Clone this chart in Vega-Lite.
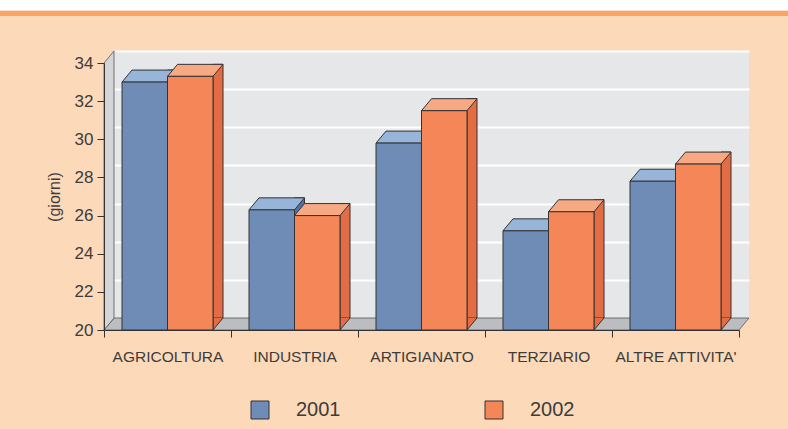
{
  "$schema": "https://vega.github.io/schema/vega-lite/v6.json",
  "autosize": "none",
  "width": 635,
  "height": 267,
  "padding": {"left": 114, "top": 51, "right": 39, "bottom": 111},
  "background": "#fcd9b8",
  "config": {
    "font": "Liberation Sans",
    "view": {"fill": "#e6e7e9", "stroke": null}
  },
  "data": {
    "values": [
      {"settore": "AGRICOLTURA", "anno": "2001", "giorni": 33.0},
      {"settore": "AGRICOLTURA", "anno": "2002", "giorni": 33.3},
      {"settore": "INDUSTRIA", "anno": "2001", "giorni": 26.3},
      {"settore": "INDUSTRIA", "anno": "2002", "giorni": 26.0},
      {"settore": "ARTIGIANATO", "anno": "2001", "giorni": 29.8},
      {"settore": "ARTIGIANATO", "anno": "2002", "giorni": 31.5},
      {"settore": "TERZIARIO", "anno": "2001", "giorni": 25.2},
      {"settore": "TERZIARIO", "anno": "2002", "giorni": 26.2},
      {"settore": "ALTRE ATTIVITA'", "anno": "2001", "giorni": 27.8},
      {"settore": "ALTRE ATTIVITA'", "anno": "2002", "giorni": 28.7}
    ]
  },
  "resolve": {"axis": {"y": "independent", "x": "independent"}},
  "layer": [
    {
      "data": {"values": [{}]},
      "mark": {"type": "point", "shape": "M-317.5,0 L317.5,0 L307.5,12 L-327.5,12 Z", "size": 4, "filled": true, "opacity": 1, "fill": "#bcbdc0", "stroke": "#555555", "strokeWidth": 0.8},
      "encoding": {
        "y": {"datum": 20, "type": "quantitative", "scale": {"domain": [20, 34], "nice": false, "zero": false}, "axis": null}
      }
    },
    {
      "data": {"values": [{}]},
      "mark": {"type": "point", "shape": "M-317.5,0 L-317.5,267 L-327.5,279 L-327.5,12 Z", "size": 4, "filled": true, "opacity": 1, "fill": "#d4d5d7", "stroke": "#555555", "strokeWidth": 0.8},
      "encoding": {
        "y": {"datum": 34, "type": "quantitative", "axis": null}
      }
    },
    {
      "data": {"values": [{}]},
      "mark": {"type": "point", "shape": "M-431.5,-5.25 L356.5,-5.25 L356.5,5.25 L-431.5,5.25 Z", "size": 4, "filled": true, "opacity": 1, "fill": "#ffffff", "strokeWidth": 0},
      "encoding": {
        "y": {"datum": 36.41, "type": "quantitative", "axis": null}
      }
    },
    {
      "data": {"values": [{}]},
      "mark": {"type": "point", "shape": "M-431.5,-2.5 L356.5,-2.5 L356.5,2.5 L-431.5,2.5 Z", "size": 4, "filled": true, "opacity": 1, "fill": "#f9a466", "strokeWidth": 0},
      "encoding": {
        "y": {"datum": 35.966, "type": "quantitative", "axis": null}
      }
    },
    {
      "transform": [{"filter": "datum.anno == '2001'"}],
      "mark": {"type": "bar", "width": 10, "xOffset": -5, "fill": "#4d72a3", "stroke": "#333333", "strokeWidth": 1},
      "encoding": {
        "x": {"field": "settore", "type": "nominal", "sort": null, "scale": {"paddingInner": 0, "paddingOuter": 0}, "axis": null},
        "y": {"field": "giorni", "type": "quantitative", "axis": {"orient": "right", "grid": true, "gridColor": "#ffffff", "gridWidth": 2, "labels": false, "ticks": false, "domain": false, "title": null, "values": [22, 24, 26, 28, 30, 32, 34]}},
        "y2": {"datum": 20}
      }
    },
    {
      "transform": [{"filter": "datum.anno == '2001'"}],
      "mark": {"type": "point", "shape": "M0,0 L-10,12 L-10,0", "size": 4, "filled": true, "opacity": 1, "fill": "#4d72a3", "stroke": "#333333", "strokeWidth": 1},
      "encoding": {
        "x": {"field": "settore", "type": "nominal", "sort": null, "axis": null},
        "y": {"datum": 20, "type": "quantitative", "axis": null}
      }
    },
    {
      "transform": [{"filter": "datum.anno == '2001'"}],
      "mark": {"type": "point", "shape": "M-45.5,0 L0,0 L-10,12 L-55.5,12 Z", "size": 4, "filled": true, "opacity": 1, "fill": "#97b4d9", "stroke": "#333333", "strokeWidth": 1},
      "encoding": {
        "x": {"field": "settore", "type": "nominal", "sort": null, "axis": null},
        "y": {"field": "giorni", "type": "quantitative", "axis": null}
      }
    },
    {
      "transform": [{"filter": "datum.anno == '2001'"}],
      "mark": {"type": "bar", "width": 45.5, "xOffset": -32.75, "yOffset": 12, "y2Offset": 12, "stroke": "#333333", "strokeWidth": 1},
      "encoding": {
        "x": {"field": "settore", "type": "nominal", "sort": null,
          "axis": {"orient": "bottom", "title": null, "tickBand": "extent", "domainColor": "#333333", "tickColor": "#333333", "tickSize": 7, "labelFontSize": 15.5, "labelColor": "#3c3c3c", "labelPadding": 12, "labelAngle": 0, "translate": -9.5, "offset": 22, "zindex": 1}},
        "y": {"field": "giorni", "type": "quantitative",
          "axis": {"orient": "left", "values": [20, 22, 24, 26, 28, 30, 32, 34], "grid": false, "title": "(giorni)", "titleFontSize": 16, "titleFontWeight": "normal", "titleColor": "#3c3c3c", "titlePadding": 12, "domainColor": "#333333", "tickColor": "#333333", "tickSize": 7, "labelPadding": 4, "labelFontSize": 17, "labelColor": "#3c3c3c", "translate": 12.5, "offset": 22, "zindex": 1}},
        "y2": {"datum": 20},
        "color": {"field": "anno", "type": "nominal",
          "scale": {"domain": ["2001", "2002"], "range": ["#6f8cb7", "#f58657"]},
          "legend": {"orient": "none", "legendX": 136, "legendY": 349, "direction": "horizontal", "title": null, "symbolType": "square", "symbolSize": 324, "symbolStrokeColor": "#333333", "symbolStrokeWidth": 1, "labelFontSize": 20, "labelColor": "#3c3c3c", "labelOffset": 26, "columnPadding": 142, "padding": 0}}
      }
    },
    {
      "transform": [{"filter": "datum.anno == '2002'"}],
      "mark": {"type": "bar", "width": 10, "xOffset": 40.5, "fill": "#e46c44", "stroke": "#333333", "strokeWidth": 1},
      "encoding": {
        "x": {"field": "settore", "type": "nominal", "sort": null, "axis": null},
        "y": {"field": "giorni", "type": "quantitative", "axis": null},
        "y2": {"datum": 20}
      }
    },
    {
      "transform": [{"filter": "datum.anno == '2002'"}],
      "mark": {"type": "point", "shape": "M45.5,0 L35.5,12 L35.5,0", "size": 4, "filled": true, "opacity": 1, "fill": "#e46c44", "stroke": "#333333", "strokeWidth": 1},
      "encoding": {
        "x": {"field": "settore", "type": "nominal", "sort": null, "axis": null},
        "y": {"datum": 20, "type": "quantitative", "axis": null}
      }
    },
    {
      "transform": [{"filter": "datum.anno == '2002'"}],
      "mark": {"type": "point", "shape": "M0,0 L45.5,0 L35.5,12 L-10,12 Z", "size": 4, "filled": true, "opacity": 1, "fill": "#f7a983", "stroke": "#333333", "strokeWidth": 1},
      "encoding": {
        "x": {"field": "settore", "type": "nominal", "sort": null, "axis": null},
        "y": {"field": "giorni", "type": "quantitative", "axis": null}
      }
    },
    {
      "transform": [{"filter": "datum.anno == '2002'"}],
      "mark": {"type": "bar", "width": 45.5, "xOffset": 12.75, "yOffset": 12, "y2Offset": 12, "stroke": "#333333", "strokeWidth": 1},
      "encoding": {
        "x": {"field": "settore", "type": "nominal", "sort": null, "axis": null},
        "y": {"field": "giorni", "type": "quantitative", "axis": null},
        "y2": {"datum": 20},
        "color": {"field": "anno", "type": "nominal", "legend": null}
      }
    }
  ]
}
